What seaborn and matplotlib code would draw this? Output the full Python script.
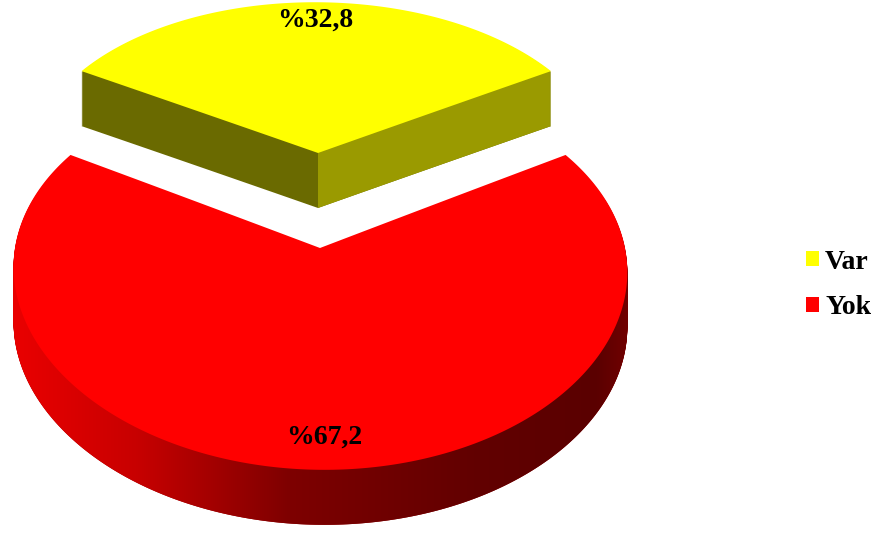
import numpy as np
import matplotlib
matplotlib.use("Agg")
import matplotlib.pyplot as plt
import matplotlib.transforms as mtransforms
from matplotlib.path import Path
from matplotlib.patches import Rectangle
from matplotlib.colors import LinearSegmentedColormap
import seaborn as sns

# ---- data -------------------------------------------------------------
categories = ["Var", "Yok"]
shares = [32.8, 67.2]
share_labels = ["%32,8", "%67,2"]
explode = [0.526, 0.0]

# ---- colours ----------------------------------------------------------
top_colors = ["#ffff00", "#ff0000"]
side_colors = ["#6a6a00", "#9a0000"]
yellow_right_face = "#9a9a00"
wall_cmap = LinearSegmentedColormap.from_list(
    "wall",
    [(0.0, "#ea0000"), (0.2, "#c80000"), (0.45, "#7e0000"),
     (0.75, "#620000"), (0.95, "#5a0000"), (1.0, "#700000")],
)

W, H = 886, 533
sns.set_style("white")
plt.rcParams["font.family"] = ["Liberation Serif", "DejaVu Serif"]

fig = plt.figure(figsize=(W / 100, H / 100), dpi=100)
ax = fig.add_axes([0, 0, 1, 1])

# geometry of the tilted disc (in pixel-like data units)
CX, CY = 320, 248
RX, RY = 305, 193
KX, KY = 0.11, 0.13
SKEW = -4.0
DEPTH = 55


class TiltedDisc(mtransforms.Transform):
    """Projects the flat pie plane onto a disc seen from above and in front."""
    input_dims = 2
    output_dims = 2
    is_separable = False
    has_inverse = False

    def __init__(self, drop=0.0):
        super().__init__()
        self.drop = drop

    def transform_non_affine(self, values):
        v = np.asarray(values, dtype=float)
        x, y = v[..., 0], v[..., 1]
        wx = 1.0 + KX * y
        wy = 1.0 + KY * y
        return np.stack([CX + (RX * x + SKEW * y) / wx,
                         CY - RY * y / wy + self.drop], axis=-1)

    def transform_path_non_affine(self, path):
        t = np.linspace(0.0, 1.0, 40)
        pts = [seg(t) for seg, _ in path.iter_bezier(simplify=False)]
        verts = np.vstack(pts)
        return Path(self.transform_non_affine(verts), closed=True)


def disc(drop=0.0):
    return TiltedDisc(drop) + ax.transData


start = 90 - shares[0] * 3.6 / 2


def draw_pie(colors, drop, z):
    wedges, _ = ax.pie(
        shares, explode=explode, colors=colors, startangle=start,
        counterclock=True, frame=False,
        wedgeprops=dict(transform=disc(drop), linewidth=0, zorder=z),
    )
    return wedges


apex_x = TiltedDisc().transform([[0.0, explode[0]]])[0, 0]
right_half = Rectangle((apex_x, -10), W, H + 20, transform=ax.transData)
gradient = np.linspace(0, 1, 256)[None, :]

# side walls: stacked copies of the pie, each shifted one pixel lower
for d in range(DEPTH, 0, -1):
    wedges = draw_pie(side_colors, d, 1)
    # shaded outer wall of the large slice
    im = ax.imshow(gradient, cmap=wall_cmap, extent=(12, 628, H, 200),
                   aspect="auto", interpolation="bilinear", zorder=2)
    im.set_clip_path(wedges[1])
    # lighter right-hand cut face of the small slice
    faces = draw_pie([yellow_right_face, "none"], d, 1.5)
    faces[1].set_visible(False)
    faces[0].set_clip_on(True)
    faces[0].set_clip_path(right_half)

# top faces
tops = draw_pie(top_colors, 0, 3)

# value labels placed on each slice's mid-angle
bounds = start + np.cumsum([0] + shares) * 3.6
for i, lab in enumerate(share_labels):
    mid = np.deg2rad((bounds[i] + bounds[i + 1]) / 2)
    r = explode[i] + 0.87
    ax.text(r * np.cos(mid), r * np.sin(mid), lab, transform=disc(),
            ha="center", va="center", fontsize=20, fontweight="bold",
            color="black", zorder=5)

ax.legend(
    tops, categories, loc="center left", bbox_to_anchor=(806 / W, 1 - 285 / H),
    frameon=False, borderpad=0, borderaxespad=0,
    handlelength=0.47, handleheight=0.45, handletextpad=0.22, labelspacing=0.75,
    labelcolor="black",
    prop={"family": "Liberation Serif", "weight": "bold", "size": 20},
)

ax.set_xlim(0, W)
ax.set_ylim(H, 0)
ax.set_aspect("auto")
ax.axis("off")

fig.savefig("out.png", dpi=100)
